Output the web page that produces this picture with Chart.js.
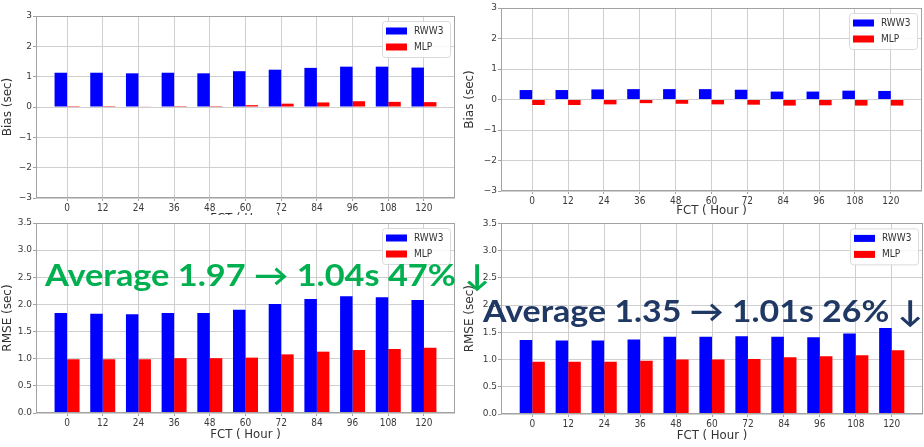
<!DOCTYPE html>
<html>
<head>
<meta charset="utf-8">
<script src="https://cdn.jsdelivr.net/npm/chart.js@4.4.1/dist/chart.umd.min.js"></script>
<style>
  html, body { margin: 0; padding: 0; background: #fff; }
  body { width: 924px; height: 447px; position: relative; overflow: hidden; }
  .panel { position: absolute; background: #fff; }
  .panel canvas { display: block; }
  .note {
    position: absolute; white-space: nowrap; line-height: 1;
    font-family: Lato, "Open Sans", sans-serif; font-weight: 700; font-size: 30px;
    transform-origin: 0 0;
  }
</style>
</head>
<body>
<div class="panel" style="left:0;top:0;"><canvas id="biasA" width="462" height="229"></canvas></div>
<div class="panel" style="left:462px;top:0;"><canvas id="biasB" width="462" height="221"></canvas></div>
<div class="panel" style="left:0;top:215px;"><canvas id="rmseA" width="462" height="232"></canvas></div>
<div class="panel" style="left:462px;top:217px;"><canvas id="rmseB" width="462" height="230"></canvas></div>

<div class="note" id="noteA" data-width="445" style="left:45px;top:259px;color:#00b050;">Average 1.97 → 1.04s 47% ↓</div>
<div class="note" id="noteB" data-width="440" style="left:483px;top:295px;color:#1f3864;">Average 1.35 → 1.01s 26% ↓</div>

<script>
// Forecast lead times (hours)
const fct = ['0', '12', '24', '36', '48', '60', '72', '84', '96', '108', '120'];

// Bias (sec), left pair of panels
const biasA_rww3 = [1.13, 1.13, 1.11, 1.13, 1.11, 1.18, 1.23, 1.29, 1.33, 1.33, 1.30];
const biasA_mlp  = [0.03, 0.03, 0.02, 0.03, 0.03, 0.06, 0.11, 0.15, 0.19, 0.17, 0.16];

// Bias (sec), right pair of panels
const biasB_rww3 = [0.31, 0.31, 0.33, 0.34, 0.34, 0.34, 0.32, 0.26, 0.26, 0.29, 0.28];
const biasB_mlp  = [-0.18, -0.18, -0.16, -0.12, -0.14, -0.16, -0.17, -0.20, -0.19, -0.20, -0.20];

// RMSE (sec)
const rmseA_rww3 = [1.84, 1.83, 1.82, 1.84, 1.84, 1.90, 2.01, 2.10, 2.15, 2.13, 2.08];
const rmseA_mlp  = [0.99, 0.99, 0.99, 1.01, 1.01, 1.02, 1.08, 1.13, 1.16, 1.18, 1.20];
const rmseB_rww3 = [1.36, 1.35, 1.35, 1.37, 1.42, 1.42, 1.43, 1.42, 1.41, 1.48, 1.58];
const rmseB_mlp  = [0.96, 0.96, 0.96, 0.98, 1.00, 1.00, 1.01, 1.04, 1.06, 1.08, 1.17];

// Y tick values and their labels
const biasTicks = [-3, -2, -1, 0, 1, 2, 3];
const biasTickLabels = ['−3', '−2', '−1', '0', '1', '2', '3'];
const rmseTicks = [0, 0.5, 1, 1.5, 2, 2.5, 3, 3.5];
const rmseTickLabels = ['0.0', '0.5', '1.0', '1.5', '2.0', '2.5', '3.0', '3.5'];

const FONT = '"DejaVu Sans", sans-serif';
const FONT_NARROW = '"DejaVu Sans Condensed", "DejaVu Sans", sans-serif';

// Axes frame drawn on all four sides of the plot area
const framePlugin = {
  id: 'frame',
  afterDatasetsDraw(chart) {
    const { ctx, chartArea: a } = chart;
    ctx.save();
    ctx.strokeStyle = '#a2a2a2';
    ctx.lineWidth = 1;
    ctx.strokeRect(Math.round(a.left) + 0.5, Math.round(a.top) + 0.5,
                   Math.round(a.right - a.left) - 1, Math.round(a.bottom - a.top) - 1);
    ctx.restore();
  }
};

// Boxed legend in the upper right corner of the plot area
const boxLegend = {
  id: 'boxLegend',
  afterDraw(chart, args, o) {
    const { ctx, chartArea: a } = chart;
    const w = 68, h = 36;
    const x = a.right - o.right - w, y = a.top + o.top;
    ctx.save();
    ctx.beginPath();
    ctx.roundRect(x + 0.5, y + 0.5, w, h, 3);
    ctx.fillStyle = 'rgba(255,255,255,0.85)';
    ctx.fill();
    ctx.strokeStyle = '#dadada';
    ctx.lineWidth = 1;
    ctx.stroke();
    ctx.font = '10px ' + FONT_NARROW;
    ctx.textBaseline = 'middle';
    chart.data.datasets.forEach((ds, i) => {
      const cy = y + 10 + i * 16;
      ctx.fillStyle = ds.backgroundColor;
      ctx.fillRect(x + 4, cy - 3.5, 21, 7);
      ctx.fillStyle = '#333';
      ctx.fillText(ds.label, x + 32, cy);
    });
    ctx.restore();
  }
};

function makeChart(id, cfg) {
  const series = (vals) => vals.map((v, i) => ({ x: i, y: v }));
  return new Chart(document.getElementById(id), {
    type: 'bar',
    data: {
      datasets: [
        { label: 'RWW3', data: series(cfg.rww3), backgroundColor: '#0000ff',
          categoryPercentage: 0.7, barPercentage: 1.0 },
        { label: 'MLP', data: series(cfg.mlp), backgroundColor: '#ff0000',
          categoryPercentage: 0.7, barPercentage: 1.0 }
      ]
    },
    options: {
      responsive: false,
      animation: false,
      devicePixelRatio: 1,
      layout: { padding: { top: cfg.padTop, right: cfg.padRight, left: 0, bottom: 0 } },
      plugins: {
        legend: { display: false },
        tooltip: { enabled: false },
        boxLegend: { right: 5, top: 5 }
      },
      scales: {
        x: {
          type: 'linear',
          min: -0.87,
          max: 10.87,
          offset: false,
          afterBuildTicks: (s) => { s.ticks = fct.map((_, i) => ({ value: i })); },
          afterFit: (s) => { s.height = cfg.xHeight; },
          ticks: {
            callback: (v, i) => fct[i],
            autoSkip: false, maxRotation: 0, padding: 1,
            color: '#3a3a3a', font: { family: FONT_NARROW, size: 10 }
          },
          grid: { color: '#cfcfcf', tickLength: 3, offset: false, tickColor: '#a2a2a2' },
          border: { display: false },
          title: {
            display: true, text: 'FCT ( Hour )', color: '#333',
            font: { family: FONT_NARROW, size: 13 }, padding: { top: 2, bottom: cfg.titlePad }
          }
        },
        y: {
          min: cfg.yMin,
          max: cfg.yMax,
          afterBuildTicks: (s) => { s.ticks = cfg.yTicks.map(v => ({ value: v })); },
          afterFit: (s) => { s.width = cfg.yWidth; },
          ticks: {
            callback: (v, i) => cfg.yLabels[i],
            padding: 1, color: '#3a3a3a', font: { family: FONT, size: 9 }
          },
          grid: { color: '#cfcfcf', tickLength: 3, tickColor: '#a2a2a2' },
          border: { display: false },
          title: {
            display: true, text: cfg.yTitle, color: '#333',
            font: { family: FONT, size: 12 }, padding: { top: 1, bottom: 1 }
          }
        }
      }
    },
    plugins: [framePlugin, boxLegend]
  });
}

makeChart('biasA', {
  rww3: biasA_rww3, mlp: biasA_mlp, yMin: -3, yMax: 3,
  yTicks: biasTicks, yLabels: biasTickLabels, yTitle: 'Bias (sec)',
  padTop: 16, padRight: 7, yWidth: 36, xHeight: 31, titlePad: 3
});
makeChart('biasB', {
  rww3: biasB_rww3, mlp: biasB_mlp, yMin: -3, yMax: 3,
  yTicks: biasTicks, yLabels: biasTickLabels, yTitle: 'Bias (sec)',
  padTop: 8, padRight: 2, yWidth: 39, xHeight: 30, titlePad: 3
});
makeChart('rmseA', {
  rww3: rmseA_rww3, mlp: rmseA_mlp, yMin: 0, yMax: 3.5,
  yTicks: rmseTicks, yLabels: rmseTickLabels, yTitle: 'RMSE (sec)',
  padTop: 8, padRight: 7, yWidth: 36, xHeight: 34, titlePad: 5
});
makeChart('rmseB', {
  rww3: rmseB_rww3, mlp: rmseB_mlp, yMin: 0, yMax: 3.5,
  yTicks: rmseTicks, yLabels: rmseTickLabels, yTitle: 'RMSE (sec)',
  padTop: 6, padRight: 1, yWidth: 39, xHeight: 33, titlePad: 4
});

// Stretch each headline to its intended width
document.querySelectorAll('.note').forEach(el => {
  const target = parseFloat(el.dataset.width);
  const w = el.getBoundingClientRect().width;
  if (w > 0) el.style.transform = 'scaleX(' + (target / w) + ')';
});
</script>
</body>
</html>
